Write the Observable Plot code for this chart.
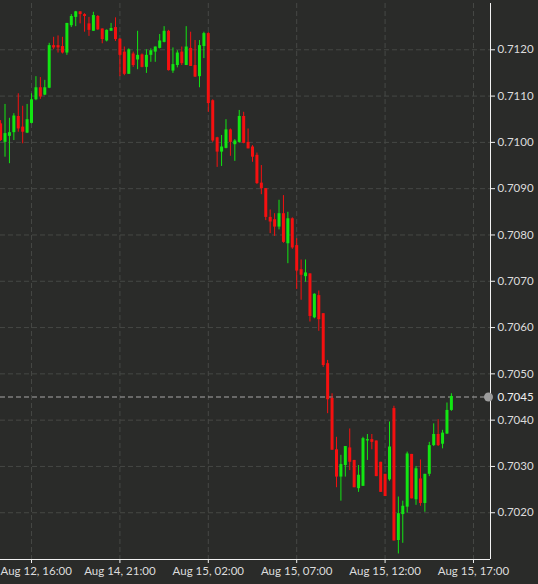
<!DOCTYPE html>
<html><head><meta charset="utf-8">
<script src="https://cdn.jsdelivr.net/npm/d3@7"></script>
<script src="https://cdn.jsdelivr.net/npm/@observablehq/plot@0.6"></script>
<style>
html,body{margin:0;padding:0;background:#2a2b29;}
#chart{width:538px;height:584px;overflow:hidden;}
</style></head><body><div id="chart"></div>
<script>
// 15-minute bars, AUD/USD-style quotes. Bar 0 = Aug 12 16:00; bar 20 = Aug 14 21:00 (weekend gap removed)
const firstBar = -7;
const openP = [
0.71040,0.71000,0.71013,0.71021,0.71056,0.71033,0.71020,
0.71041,0.71092,0.71118,0.71102,0.71117,0.71209,0.71209,0.71207,0.71193,0.71252,
0.71270,0.71282,0.71276,0.71256,0.71240,0.71272,0.71245,0.71219,0.71240,0.71248,
0.71223,0.71195,0.71147,0.71191,0.71178,0.71189,0.71162,0.71188,0.71195,0.71203,
0.71216,0.71240,0.71154,0.71166,0.71195,0.71166,0.71203,0.71166,0.71142,0.71207,
0.71235,0.71090,0.71010,0.70979,0.70987,0.71027,0.70995,0.71000,0.71056,0.71000,
0.70990,0.70972,0.70912,0.70900,0.70838,0.70833,0.70817,0.70846,0.70781,0.70835,
0.70777,0.70725,0.70710,0.70716,0.70621,0.70669,0.70630,0.70522,0.70447,0.70336,
0.70277,0.70302,0.70340,0.70313,0.70252,0.70257,0.70355,0.70358,0.70355,0.70309,
0.70283,0.70271,0.70425,0.70140,0.70196,0.70212,0.70326,0.70228,0.70273,0.70220,
0.70283,0.70345,0.70369,0.70348,0.70370,0.70421];
const highP = [
0.71047,0.71082,0.71052,0.71062,0.71105,0.71078,0.71082,
0.71105,0.71142,0.71140,0.71134,0.71214,0.71227,0.71230,0.71227,0.71257,0.71276,
0.71283,0.71282,0.71278,0.71270,0.71281,0.71274,0.71245,0.71243,0.71257,0.71269,
0.71224,0.71206,0.71202,0.71195,0.71240,0.71191,0.71200,0.71202,0.71206,0.71233,
0.71250,0.71242,0.71204,0.71198,0.71206,0.71250,0.71238,0.71220,0.71220,0.71238,
0.71237,0.71092,0.71011,0.71015,0.71049,0.71029,0.71006,0.71069,0.71065,0.71029,
0.70993,0.70977,0.70950,0.70900,0.70854,0.70846,0.70875,0.70885,0.70849,0.70837,
0.70792,0.70746,0.70746,0.70716,0.70673,0.70679,0.70630,0.70529,0.70457,0.70363,
0.70324,0.70343,0.70381,0.70313,0.70302,0.70363,0.70369,0.70369,0.70355,0.70309,
0.70283,0.70396,0.70430,0.70234,0.70225,0.70331,0.70326,0.70300,0.70314,0.70283,
0.70352,0.70392,0.70401,0.70378,0.70437,0.70457];
const lowP = [
0.71002,0.70968,0.70954,0.71004,0.71022,0.70997,0.71019,
0.71040,0.71090,0.71093,0.71101,0.71116,0.71200,0.71193,0.71191,0.71188,0.71248,
0.71250,0.71256,0.71238,0.71229,0.71240,0.71242,0.71213,0.71217,0.71240,0.71218,
0.71142,0.71144,0.71147,0.71162,0.71157,0.71161,0.71149,0.71173,0.71173,0.71202,
0.71215,0.71154,0.71149,0.71161,0.71166,0.71166,0.71164,0.71140,0.71118,0.71181,
0.71065,0.71000,0.70946,0.70948,0.70986,0.70970,0.70959,0.70998,0.70997,0.70986,
0.70957,0.70909,0.70887,0.70831,0.70803,0.70797,0.70811,0.70782,0.70738,0.70769,
0.70682,0.70659,0.70698,0.70612,0.70619,0.70592,0.70514,0.70414,0.70335,0.70254,
0.70225,0.70277,0.70291,0.70254,0.70244,0.70257,0.70313,0.70336,0.70278,0.70244,
0.70235,0.70268,0.70139,0.70111,0.70134,0.70199,0.70230,0.70216,0.70214,0.70201,
0.70278,0.70343,0.70343,0.70338,0.70369,0.70419];
const closeP = [
0.71004,0.71019,0.71021,0.71057,0.71029,0.71022,0.71049,
0.71092,0.71118,0.71098,0.71118,0.71209,0.71204,0.71204,0.71193,0.71257,0.71272,
0.71282,0.71276,0.71272,0.71242,0.71274,0.71243,0.71222,0.71242,0.71246,0.71222,
0.71188,0.71147,0.71200,0.71166,0.71188,0.71162,0.71188,0.71198,0.71206,0.71219,
0.71240,0.71155,0.71168,0.71193,0.71170,0.71206,0.71164,0.71141,0.71209,0.71235,
0.71084,0.71003,0.70979,0.70990,0.71027,0.71000,0.71003,0.71056,0.70998,0.70986,
0.70968,0.70911,0.70900,0.70838,0.70828,0.70817,0.70846,0.70784,0.70835,0.70772,
0.70722,0.70713,0.70718,0.70624,0.70672,0.70617,0.70518,0.70444,0.70335,0.70277,
0.70304,0.70343,0.70309,0.70254,0.70281,0.70360,0.70358,0.70352,0.70278,0.70244,
0.70235,0.70342,0.70139,0.70198,0.70214,0.70327,0.70230,0.70295,0.70220,0.70283,
0.70345,0.70369,0.70345,0.70372,0.70421,0.70451];

const xTickBars = [0, 20, 40, 60, 80, 100];
const xTickLabels = ["Aug 12, 16:00","Aug 14, 21:00","Aug 15, 02:00","Aug 15, 07:00","Aug 15, 12:00","Aug 15, 17:00"];
const yTicks = [0.7020,0.7030,0.7040,0.7050,0.7060,0.7070,0.7080,0.7090,0.7100,0.7110,0.7120];
const currentPrice = 0.7045;
const xDomain = [-7.02, 103.85];
const yDomain = [0.70099, 0.71300];

const UP = "#12e612", DOWN = "#f51010";
const TXT = "#dcdcdc", AXIS = "#f2f2f2";
const bars = openP.map((o, k) => ({
  bar: firstBar + k, open: o, high: highP[k], low: lowP[k], close: closeP[k],
  col: closeP[k] >= o ? UP : DOWN
}));
const fmt4 = d3.format(".4f");

const chart = Plot.plot({
  width: 538, height: 584,
  marginLeft: 0, marginRight: 48, marginTop: 3, marginBottom: 25,
  style: {background: "#2a2b29", color: TXT, fontFamily: "Lato, 'Open Sans', sans-serif", fontSize: "11.5px"},
  x: {domain: xDomain},
  y: {domain: yDomain},
  color: {type: "identity"},
  marks: [
    Plot.gridX({ticks: xTickBars, stroke: "#464845", strokeOpacity: 1, strokeDasharray: "5,3"}),
    Plot.gridY({ticks: yTicks, stroke: "#464845", strokeOpacity: 1, strokeDasharray: "5,3"}),
    Plot.ruleY([currentPrice], {stroke: "#a8a8a8", strokeDasharray: "5,3"}),
    Plot.ruleX(bars, {x: "bar", y1: "low", y2: "high", stroke: "col", strokeWidth: 1}),
    Plot.ruleX(bars, {x: "bar", y1: "open", y2: "close", stroke: "col", strokeWidth: 3}),
    Plot.ruleX([xDomain[1]], {stroke: AXIS}),
    Plot.ruleY([yDomain[0]], {stroke: AXIS}),
    Plot.axisX({ticks: xTickBars, tickFormat: d => d === xTickBars[0] ? "" : xTickLabels[xTickBars.indexOf(d)], tickSize: 4, tickPadding: 3, stroke: AXIS, fill: TXT, label: null}),
    // first date label sits against the left edge, as in the original
    Plot.text([xTickLabels[0]], {frameAnchor: "bottom-left", textAnchor: "start", lineAnchor: "top", dy: 7, fill: TXT}),
    Plot.axisY({anchor: "right", ticks: yTicks, tickFormat: fmt4, tickSize: 4, tickPadding: 3, stroke: AXIS, fill: TXT, label: null}),
    Plot.dot([currentPrice], {x: xDomain[1], y: d => d, r: 4.5, fill: "#9c9c9c", dx: -2}),
    Plot.text([currentPrice], {x: xDomain[1], y: d => d, text: d => fmt4(d), textAnchor: "start", dx: 7, fill: "#f0f0f0"})
  ]
});
document.getElementById("chart").appendChild(chart);
</script>
</body></html>
